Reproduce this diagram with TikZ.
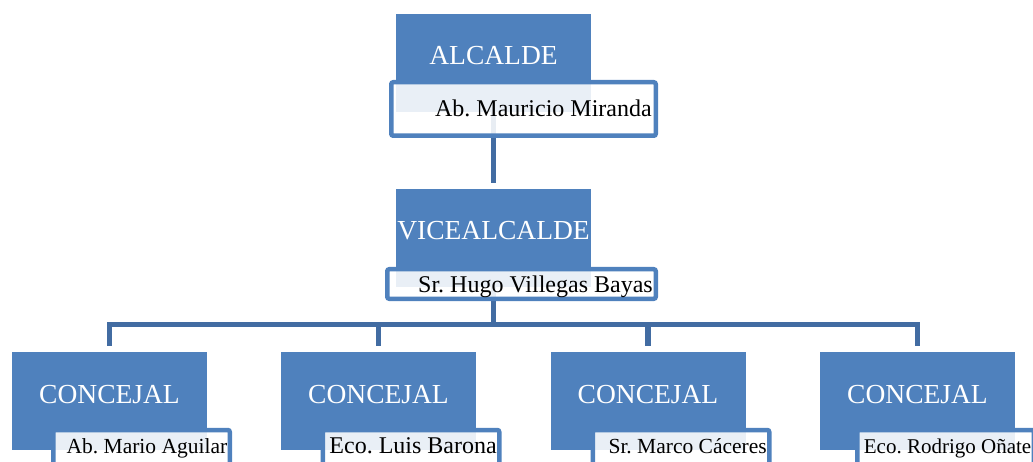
\documentclass[tikz,border=0pt]{standalone}
\usepackage{fontspec}
\setmainfont{Liberation Serif}
\usepackage{tikz}
\usetikzlibrary{backgrounds}
\definecolor{boxblue}{RGB}{79,129,189}
\definecolor{linkblue}{RGB}{66,108,162}

\begin{document}
\frenchspacing
\begin{tikzpicture}[x=1pt,y=-1pt,
      rolebox/.style={rectangle, fill=boxblue, minimum width=195pt, minimum height=98pt, inner sep=0pt, text=white, text height=20pt, text depth=16pt, font={\fontsize{27.5}{33}\selectfont}},
      namebox/.style={rectangle, draw=boxblue, line width=4.5pt, rounded corners=2pt, fill=white, fill opacity=0.88, text opacity=1, inner xsep=4pt, inner ysep=1pt, align=flush right, text height=16pt, text depth=0pt, font={\fontsize{24}{28}\selectfont}},
      councilname/.style={namebox, minimum width=176.5pt, text width=171.5pt, inner xsep=2.5pt, minimum height=40pt, text depth=10pt},
      smallname/.style={font={\fontsize{21.5}{25}\selectfont}},
      link/.style={draw=linkblue, line width=5.5pt}]

    \useasboundingbox (0,0) rectangle (1033,462);

    %draw role boxes
    \node[rolebox] (alcalde) at (493.5,63) {ALCALDE};
    \node[rolebox] (vice) at (493.5,238) {VICEALCALDE};
    \foreach \x/\n in {109.5/1, 378.5/2, 648/3, 917.5/4}{
      \node[rolebox] (conc\n) at (\x,401) {CONCEJAL};
    }

    %draw name boxes
    \node[namebox, minimum width=264.5pt, text width=256.5pt, minimum height=53.5pt] (mauricio) at (523.5,109) {Ab. Mauricio Miranda};
    \node[namebox, minimum width=268.5pt, text width=262.5pt, inner xsep=3pt, minimum height=29.5pt] (hugo) at (521.5,284) {Sr. Hugo Villegas Bayas};
    \node[councilname, smallname] (mario) at (141.5,450) {Ab. Mario Aguilar};
    \node[councilname] (luis) at (411,450) {Eco. Luis Barona};
    \node[councilname, smallname] (marco) at (681,450) {Sr. Marco Cáceres};
    \node[councilname, font={\fontsize{21}{25}\selectfont}] (rodrigo) at (945.5,450) {Eco. Rodrigo Oñate};

    %draw connectors
    \begin{scope}[on background layer]
      \draw[link, shorten >=6pt] (alcalde.south) -- (vice.north);
      \coordinate (bus) at (493.5,324.5);
      \draw[link] (vice.south) -- (bus);
      \draw[link, shorten <=6pt, shorten >=6pt] (conc1.north) |- (bus) -| (conc4.north);
      \foreach \n in {2,3}{
        \draw[link, shorten >=6pt] (bus -| conc\n.north) -- (conc\n.north);
      }
    \end{scope}

  \end{tikzpicture}
\end{document}
